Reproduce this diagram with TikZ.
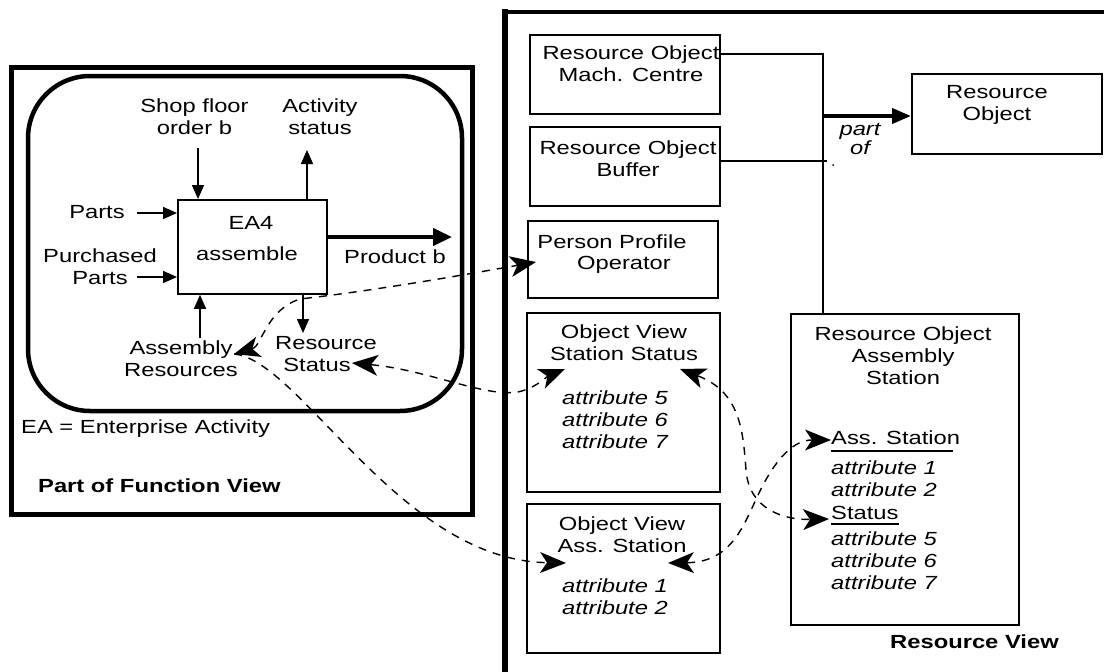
\documentclass[tikz,border=0pt]{standalone}
\usepackage{fontspec}
\setmainfont{Liberation Sans}[FakeStretch=1.25]
\usetikzlibrary{arrows.meta}
\begin{document}
\begin{tikzpicture}[x=1pt,y=-1pt,
  every node/.style={inner sep=0pt, font=\fontsize{19}{22}\selectfont},
  box/.style={draw, line width=1.8pt, anchor=north west},
  txt/.style={align=center},
  attr/.style={align=left, anchor=west, font=\fontsize{19}{22}\selectfont\itshape},
  thinarr/.style={line width=1.6pt, -{Triangle[length=14pt,width=12pt]}},
  thickarr/.style={line width=4.5pt, -{Triangle[length=19pt,width=17pt]}},
  dtip/.tip={Stealth[length=26pt,width=21pt,inset=7pt,line width=0pt]},
  dlink/.style={line width=1.4pt, dash pattern=on 8pt off 7pt, dtip-dtip},
  dlinkE/.style={line width=1.4pt, dash pattern=on 8pt off 7pt, -dtip},
  heavy/.style={line width=5pt},
  ]
\useasboundingbox (0,0) rectangle (1104,672);
\fill[white] (0,0) rectangle (1104,672);

% ---------------- Function view ----------------
\draw[heavy] (11,67) rectangle (472,514);
\draw[line width=4.5pt, rounded corners=62pt] (28,76) rectangle (462,411);

\node[box, minimum width=149pt, minimum height=94pt] (ea) at (177,199) {};
\node (ea4) at (251,223) {EA4};
\node (asm) at (247,254) {assemble};

\node[txt] (shop) at (194.5,117) {Shop floor\\order b};
\node[txt] (act) at (320,117) {Activity\\status};
\node (parts) at (97,212) {Parts};
\node[txt] (pparts) at (100,266.5) {Purchased\\Parts};
\node (prod) at (395,257) {Product b};
\node[txt] (ares) at (181,359) {Assembly\\Resources};
\node (rs1) at (326,343) {Resource};
\node (rs2) at (317,365) {Status};
\node[anchor=west] (ea-def) at (21,429) {EA = Enterprise Activity};
\node[anchor=west, font=\fontsize{19}{22}\selectfont\bfseries] (fv) at (38,486) {Part of Function View};

\coordinate (shopA) at (198,148);
\coordinate (actA) at (307,150);
\coordinate (partsA) at (137,213);
\coordinate (ppartsA) at (137,277);
\coordinate (aresA) at (200,338);
\coordinate (rsA) at (303,333);
\coordinate (prodA) at (452,237);

\draw[thinarr] (shopA) -- (shopA |- ea.north);
\draw[thinarr] (actA |- ea.north) -- (actA);
\draw[thinarr] (partsA) -- (partsA -| ea.west);
\draw[thinarr] (ppartsA) -- (ppartsA -| ea.west);
\draw[thinarr] (aresA) -- (aresA |- ea.south);
\draw[thinarr] (rsA |- ea.south) -- (rsA);
\draw[thickarr] (prodA -| ea.east) -- (prodA);

% ---------------- Resource view ----------------
\draw[line width=6pt] (505,9) -- (505,672);
\draw[line width=4pt] (502,12) -- (1104,12);

\node[box, minimum width=190pt, minimum height=79pt] (mach) at (529,34) {};
\node[txt] at (631,63.5) {Resource Object\\Mach. Centre};
\node[box, minimum width=190pt, minimum height=79pt] (buf) at (529,126) {};
\node[txt] at (628,159) {Resource Object\\Buffer};
\node[box, minimum width=190pt, minimum height=77pt] (pp) at (527,220) {};
\node (pp1) at (612,242) {Person Profile};
\node (pp2) at (624,265) {Operator};
\node[box, minimum width=190pt, minimum height=80pt] (ro) at (911,73) {};
\node[txt] at (997,105) {Resource\\Object};

\node[box, minimum width=193pt, minimum height=179pt] (ovss) at (526,312) {};
\node[txt] at (624,342.5) {Object View\\Station Status};
\node[attr] at (562,419.5) {attribute 5\\attribute 6\\attribute 7};

\node[box, minimum width=193pt, minimum height=149pt] (ovas) at (526,503) {};
\node[txt] at (622,534.5) {Object View\\Ass. Station};
\node[attr] at (562,597) {attribute 1\\attribute 2};

\node[box, minimum width=228pt, minimum height=311pt] (roas) at (790,313) {};
\node[txt] at (903,355.5) {Resource Object\\Assembly\\Station};
\node[anchor=west] (assst) at (831,438) {Ass. Station};
\draw[line width=2pt] (831,451) -- (953,451);
\node[attr] at (831,478.5) {attribute 1\\attribute 2};
\node[anchor=west] (stat) at (831,513) {Status};
\draw[line width=2pt] (831,524) -- (899,524);
\node[attr] at (831,561) {attribute 5\\attribute 6\\attribute 7};

\node[anchor=west, font=\fontsize{19}{22}\selectfont\bfseries] (rv) at (890,642) {Resource View};

% part-of structure
\coordinate (vtop) at (823,54);
\coordinate (bufEnd) at (827,161);
\coordinate (junc) at (823,116);
\draw[line width=1.8pt] ([yshift=-20pt]mach.north east) -- (vtop) -- (vtop |- roas.north);
\draw[line width=1.8pt] ([yshift=-35pt]buf.north east) -- (bufEnd);
\draw[line width=4pt, -{Triangle[length=19pt,width=15pt]}] (junc) -- (junc -| ro.west);
\node[txt, font=\fontsize{19}{19}\selectfont\itshape] (partof) at (860,139) {part\\of};
\fill (833,165) circle (1pt);

% ---------------- dashed links ----------------
\coordinate (arTip) at (234,354);
\coordinate (ppTip) at (536,262);
\coordinate (ovasL) at (566,563);
\coordinate (rsTip) at (352,363);
\coordinate (ovssL) at (565,369);
\coordinate (ovssR) at (680,369);
\coordinate (stTip) at (829,519);
\coordinate (ovasR) at (668,563);
\coordinate (asTip) at (831,440);

\draw[dlink] (arTip) .. controls (262,346) and (266,310) .. (300,299)
   .. controls (380,290) and (480,272) .. (ppTip);
\draw[dlinkE] (arTip) .. controls (300,360) and (400,560) .. (ovasL);
\draw[dlink] (rsTip) .. controls (430,370) and (490,400) .. (522,391)
   .. controls (538,386) and (548,376) .. (ovssL);
\draw[dlink] (ovssR) .. controls (740,392) and (743,430) .. (746,470)
   .. controls (749,510) and (785,520) .. (stTip);
\draw[dlink] (ovasR) .. controls (735,562) and (745,520) .. (762,487)
   .. controls (778,456) and (795,440) .. (asTip);
\end{tikzpicture}
\end{document}
